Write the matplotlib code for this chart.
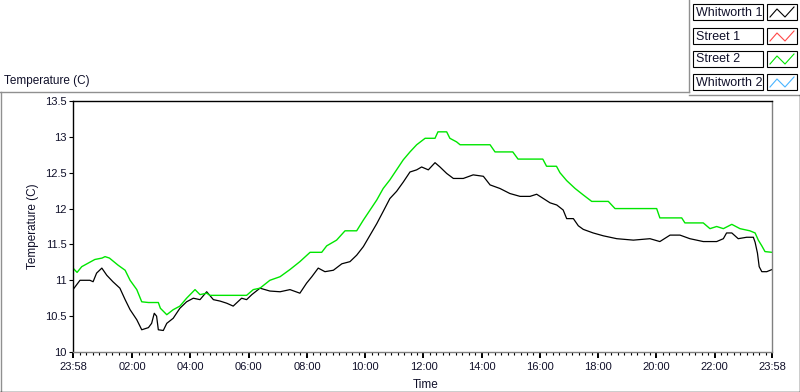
import matplotlib

matplotlib.use("Agg")
import matplotlib.pyplot as plt  # noqa: E402
from matplotlib.lines import Line2D  # noqa: E402
from matplotlib.patches import Rectangle  # noqa: E402
from matplotlib.ticker import FixedLocator, FixedFormatter  # noqa: E402

W, H = 800, 392

# hours since 23:58, temperature (C)
w1_hours = [0.0, 0.24, 0.58, 0.69, 0.81, 0.99, 1.16, 1.37, 1.61, 1.79, 1.96,
            2.19, 2.36, 2.59, 2.70, 2.79, 2.87, 2.93, 3.10, 3.22, 3.44, 3.67,
            3.90, 4.13, 4.36, 4.59, 4.82, 5.05, 5.28, 5.50, 5.79, 5.96, 6.14,
            6.42, 6.76, 7.11, 7.45, 7.79, 8.02, 8.20, 8.42, 8.65, 8.94, 9.23,
            9.51, 9.74, 9.97, 10.20, 10.43, 10.65, 10.88, 11.11, 11.34, 11.57,
            11.80, 11.97, 12.20, 12.43, 12.60, 12.83, 13.06, 13.40, 13.74,
            14.09, 14.32, 14.66, 15.00, 15.35, 15.69, 15.92, 16.38, 16.61,
            16.83, 16.95, 17.18, 17.35, 17.52, 17.86, 18.21, 18.67, 19.24,
            19.81, 20.15, 20.50, 20.84, 21.18, 21.64, 22.10, 22.33, 22.44,
            22.62, 22.84, 23.13, 23.36, 23.42, 23.50, 23.56, 23.65, 23.82, 24.0]
w1_temp = [10.87, 11.0, 11.0, 10.98, 11.10, 11.17, 11.07, 10.98, 10.89, 10.73,
           10.59, 10.45, 10.31, 10.34, 10.40, 10.54, 10.50, 10.31, 10.30, 10.40,
           10.47, 10.61, 10.70, 10.75, 10.73, 10.84, 10.73, 10.71, 10.68, 10.64,
           10.75, 10.73, 10.80, 10.89, 10.85, 10.84, 10.87, 10.82, 10.96, 11.05,
           11.17, 11.12, 11.14, 11.23, 11.26, 11.35, 11.47, 11.63, 11.79, 11.96,
           12.14, 12.24, 12.37, 12.51, 12.54, 12.58, 12.54, 12.64, 12.58, 12.49,
           12.42, 12.42, 12.47, 12.45, 12.33, 12.28, 12.21, 12.17, 12.17, 12.20,
           12.08, 12.05, 11.98, 11.86, 11.86, 11.76, 11.71, 11.66, 11.62, 11.58,
           11.56, 11.58, 11.54, 11.63, 11.63, 11.58, 11.54, 11.54, 11.58, 11.66,
           11.66, 11.58, 11.60, 11.60, 11.53, 11.38, 11.19, 11.12, 11.12, 11.15]

s2_hours = [0.0, 0.14, 0.30, 0.75, 1.0, 1.10, 1.25, 1.55, 1.79, 1.96, 2.19,
            2.36, 2.59, 2.93, 3.0, 3.22, 3.44, 3.67, 3.90, 4.19, 4.36, 4.59,
            4.70, 5.96, 6.19, 6.42, 6.76, 7.11, 7.45, 7.79, 8.14, 8.54, 8.71,
            9.05, 9.34, 9.74, 9.97, 10.20, 10.43, 10.65, 10.88, 11.11, 11.34,
            11.57, 11.80, 12.09, 12.43, 12.53, 12.83, 12.94, 13.17, 13.29,
            14.32, 14.49, 15.10, 15.28, 16.13, 16.26, 16.60, 16.72, 16.95,
            17.24, 17.52, 17.81, 18.38, 18.61, 20.04, 20.15, 20.90, 21.01,
            21.64, 21.87, 22.10, 22.33, 22.62, 22.90, 23.24, 23.42, 23.53,
            23.65, 23.76, 24.0]
s2_temp = [11.17, 11.11, 11.19, 11.29, 11.31, 11.33, 11.31, 11.21, 11.14, 11.00,
           10.87, 10.70, 10.69, 10.69, 10.61, 10.52, 10.59, 10.64, 10.75, 10.87,
           10.80, 10.82, 10.79, 10.79, 10.87, 10.89, 11.00, 11.05, 11.15, 11.26,
           11.39, 11.39, 11.48, 11.56, 11.69, 11.69, 11.84, 11.98, 12.12, 12.28,
           12.40, 12.54, 12.68, 12.79, 12.89, 12.98, 12.98, 13.07, 13.07, 12.98,
           12.93, 12.89, 12.89, 12.79, 12.79, 12.69, 12.69, 12.59, 12.59, 12.50,
           12.39, 12.28, 12.19, 12.10, 12.10, 12.00, 12.00, 11.87, 11.87, 11.80,
           11.80, 11.72, 11.75, 11.72, 11.78, 11.72, 11.69, 11.66, 11.56, 11.48,
           11.40, 11.39]

legend_names = ["Whitworth 1", "Street 1", "Street 2", "Whitworth 2"]
legend_colors = ["#000000", "#ff4848", "#00e600", "#48b4ff"]

xtick_hours = [0, 2 + 2 / 60, 4 + 2 / 60, 6 + 2 / 60, 8 + 2 / 60, 10 + 2 / 60,
               12 + 2 / 60, 14 + 2 / 60, 16 + 2 / 60, 18 + 2 / 60, 20 + 2 / 60,
               22 + 2 / 60, 24]
xtick_labels = ["23:58", "02:00", "04:00", "06:00", "08:00", "10:00", "12:00",
                "14:00", "16:00", "18:00", "20:00", "22:00", "23:58"]
ytick_vals = [10, 10.5, 11, 11.5, 12, 12.5, 13, 13.5]

FONT = "Liberation Sans"
TXT = "#10102a"


def fx(px):
    return px / W


def fy(py):
    return 1 - py / H


fig = plt.figure(figsize=(W / 100, H / 100), dpi=100)
fig.patch.set_facecolor("white")

ax = fig.add_axes([fx(73), fy(352), fx(772) - fx(73), fy(101) - fy(352)])
ax.plot(w1_hours, w1_temp, color=legend_colors[0], lw=0.9)
ax.plot(s2_hours, s2_temp, color=legend_colors[2], lw=1.0)
ax.set_xlim(0, 24)
ax.set_ylim(10, 13.5)

ax.xaxis.set_major_locator(FixedLocator(xtick_hours))
ax.xaxis.set_major_formatter(FixedFormatter(xtick_labels))
minors = []
for a, b in zip(xtick_hours[:-1], xtick_hours[1:]):
    minors += [a + (b - a) * k / 9 for k in range(1, 9)]
ax.xaxis.set_minor_locator(FixedLocator(minors))
ax.set_yticks(ytick_vals)
ax.set_yticklabels(["%g" % v for v in ytick_vals])

ax.tick_params(axis="x", which="major", length=4, width=1.4, pad=3,
               labelsize=8, labelcolor=TXT)
ax.tick_params(axis="x", which="minor", length=2.5, width=0.8)
ax.tick_params(axis="y", which="major", length=3, width=0.8, pad=1.5,
               labelsize=8, labelcolor=TXT)
for lab in ax.get_xticklabels() + ax.get_yticklabels():
    lab.set_family(FONT)

ax.spines["left"].set_color("black")
ax.spines["top"].set_color("black")
ax.spines["right"].set_color("#808080")
ax.spines["bottom"].set_color("#808080")
for s in ax.spines.values():
    s.set_linewidth(1.0)

fig.text(fx(426), fy(385), "Time", family=FONT, fontsize=8.5, color=TXT,
         ha="center", va="center")
fig.text(fx(33), fy(226), "Temperature (C)", family=FONT, fontsize=8.5,
         color=TXT, rotation=90, ha="center", va="center")
fig.text(fx(4), fy(81), "Temperature (C)", family=FONT, fontsize=8.5,
         color=TXT, ha="left", va="center")

# panel frame
def fline(xs, ys, color, lw=1.0):
    fig.add_artist(Line2D([fx(x) for x in xs], [fy(y) for y in ys],
                          color=color, lw=lw, transform=fig.transFigure))


fline([0.5, 0.5], [92, 392], "#909090")
fline([0, 689], [92, 92], "#909090")
fline([689, 689], [0, 92], "#909090")
fline([689, 800], [95, 95], "#909090")
fline([0, 800], [391.5, 391.5], "black")
fline([799.5, 799.5], [95, 392], "black")

# legend
rows = [4, 28, 51, 74]
for row, name, col in zip(rows, legend_names, legend_colors):
    fig.add_artist(Rectangle((fx(693), fy(row + 16)), fx(763) - fx(693),
                             fy(row) - fy(row + 16), transform=fig.transFigure,
                             facecolor="white", edgecolor="black", lw=0.8))
    fig.text(fx(695.5), fy(row + 8.5), name, family=FONT, fontsize=9,
             color=TXT, ha="left", va="center")
    fig.add_artist(Rectangle((fx(767), fy(row + 16)), fx(797) - fx(767),
                             fy(row) - fy(row + 16), transform=fig.transFigure,
                             facecolor="white", edgecolor="black", lw=0.8))
    gx = [770, 777, 785, 794]
    gy = [row + 13, row + 5, row + 13, row + 3]
    fline(gx, gy, col, lw=0.8)

fig.savefig("out.png", dpi=100)
